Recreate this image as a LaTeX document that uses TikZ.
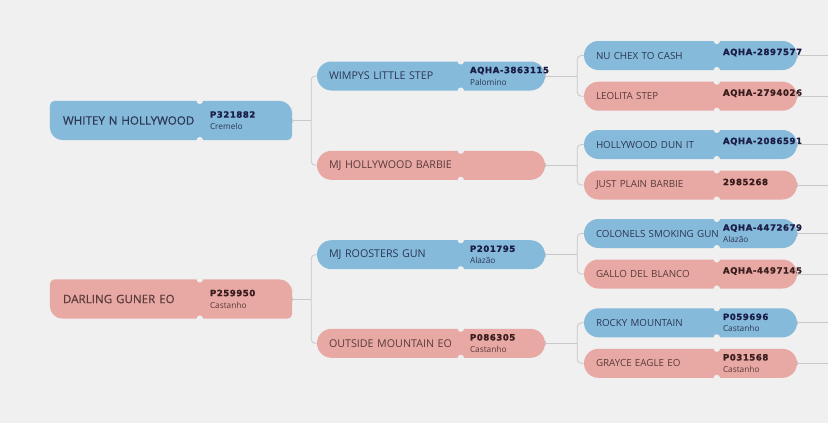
\documentclass[tikz,border=0pt]{standalone}
\usepackage{fontspec}
\setmainfont{Open Sans}
\newfontfamily\rootfont{Open Sans}[FakeBold=0.5]
\newfontfamily\regfont{DejaVu Sans}[LetterSpace=6,FakeBold=1.4]
\usetikzlibrary{positioning,arrows.meta}

\definecolor{bgcol}{HTML}{F0F0F0}
\definecolor{hblue}{HTML}{86BADB}
\definecolor{hpink}{HTML}{E8A8A4}
\definecolor{linecol}{HTML}{C8C8C8}
\definecolor{bluetext}{HTML}{2B3753}
\definecolor{pinktext}{HTML}{5A3B39}
\definecolor{blueid}{HTML}{1A1D45}
\definecolor{pinkid}{HTML}{3A1D1D}

\pgfdeclarelayer{bg}
\pgfsetlayers{bg,main}

% registration number + coat colour
\newcommand{\reg}[3]{{\regfont\bfseries\fontsize{8.6}{8.5}\selectfont\color{#1}#2}\\{\fontsize{8.3}{8.5}\selectfont #3}}
\newcommand{\regonly}[2]{{\regfont\bfseries\fontsize{8.6}{9}\selectfont\color{#1}#2}}
% root box with two sharp-ish corners
\newcommand{\rootfill}[2]{\fill[#2] (#1.west) [rounded corners=5pt] |- (#1.north) [rounded corners=13pt] -| (#1.east) [rounded corners=5pt] |- (#1.south) [rounded corners=13pt] -| (#1.west);}

\tikzset{
  sire/.style={fill=hblue,text=bluetext},
  dam/.style={fill=hpink,text=pinktext},
  rootbox/.style={rectangle,minimum width=242pt,minimum height=39pt,text width=216pt,inner xsep=13pt,inner ysep=0pt,align=left,font=\rootfont\fontsize{11.6}{13}\selectfont},
  pill/.style={rectangle,rounded corners=14.5pt,minimum height=29pt,inner ysep=0pt,align=left},
  midbox/.style={pill,minimum width=228pt,text width=204pt,inner xsep=12pt,font=\fontsize{10.7}{12}\selectfont},
  leafbox/.style={pill,minimum width=213pt,text width=189pt,inner xsep=12pt,font=\fontsize{9.8}{12}\selectfont},
  notch/.style={circle,fill=bgcol,minimum size=6.5pt,inner sep=0pt},
  regno/.style={anchor=west,inner sep=0pt,align=left},
  link/.style={draw=linecol,line width=0.8pt},
  tick/.style={link,{Bar[width=4pt]}-}
}

\begin{document}
\begin{tikzpicture}[x=1pt,y=-1pt]
    \useasboundingbox (0,0) rectangle (828,423);
    \begin{pgfonlayer}{bg}
        \fill[bgcol] (0,0) rectangle (828,423);
    \end{pgfonlayer}

    % generation 1
    \node[rootbox,text=bluetext] (whitey) at (171,120.5) {WHITEY N HOLLYWOOD};
    \node[rootbox,text=pinktext] (darling) at (171,299) {DARLING GUNER EO};
    \begin{pgfonlayer}{bg}
        \rootfill{whitey}{hblue}
        \rootfill{darling}{hpink}
    \end{pgfonlayer}

    % generation 2
    \node[midbox,sire] (wimpy) at (431,76) {WIMPYS LITTLE STEP};
    \node[midbox,dam] (mjbarbie) at (431,165.3) {MJ HOLLYWOOD BARBIE};
    \node[midbox,sire] (roosters) at (431,254.7) {MJ ROOSTERS GUN};
    \node[midbox,dam] (outside) at (431,343.3) {OUTSIDE MOUNTAIN EO};

    % generation 3
    \node[leafbox,sire] (nuchex) at (690.5,55.5) {NU CHEX TO CASH};
    \node[leafbox,dam] (leolita) at (690.5,96.2) {LEOLITA STEP};
    \node[leafbox,sire] (hwdun) at (690.5,144.5) {HOLLYWOOD DUN IT};
    \node[leafbox,dam] (plainbarbie) at (690.5,185) {JUST PLAIN BARBIE};
    \node[leafbox,sire] (colonels) at (690.5,233.5) {COLONELS SMOKING GUN};
    \node[leafbox,dam] (gallo) at (690.5,274) {GALLO DEL BLANCO};
    \node[leafbox,sire] (rocky) at (690.5,322.8) {ROCKY MOUNTAIN};
    \node[leafbox,dam] (grayce) at (690.5,363.3) {GRAYCE EAGLE EO};

    % notches
    \foreach \n/\d in {whitey/150,darling/150,wimpy/144,mjbarbie/144,roosters/144,outside/144,
        nuchex/133,leolita/133,hwdun/133,plainbarbie/133,colonels/133,gallo/133,rocky/133,grayce/133} {
        \node[notch] (\n-ntop) at ([xshift=\d pt]\n.north west) {};
        \node[notch] (\n-nbot) at ([xshift=\d pt]\n.south west) {};
    }

    % registrations
    \node[regno,text=bluetext] (whiteyreg) at ([xshift=160pt]whitey.west) {\reg{blueid}{P321882}{Cremelo}};
    \node[regno,text=pinktext] (darlingreg) at ([xshift=160pt]darling.west) {\reg{pinkid}{P259950}{Castanho}};
    \node[regno,text=bluetext] (wimpyreg) at ([xshift=153pt]wimpy.west) {\reg{blueid}{AQHA-3863115}{Palomino}};
    \node[regno,text=bluetext] (roostersreg) at ([xshift=153pt]roosters.west) {\reg{blueid}{P201795}{Alazão}};
    \node[regno,text=pinktext] (outsidereg) at ([xshift=153pt]outside.west) {\reg{pinkid}{P086305}{Castanho}};
    \node[regno] (nuchexreg) at ([xshift=139pt,yshift=3pt]nuchex.west) {\regonly{blueid}{AQHA-2897577}};
    \node[regno] (leolitareg) at ([xshift=139pt,yshift=3pt]leolita.west) {\regonly{pinkid}{AQHA-2794026}};
    \node[regno] (hwdunreg) at ([xshift=139pt,yshift=3pt]hwdun.west) {\regonly{blueid}{AQHA-2086591}};
    \node[regno] (plainbarbiereg) at ([xshift=139pt,yshift=3pt]plainbarbie.west) {\regonly{pinkid}{2985268}};
    \node[regno,text=bluetext] (colonelsreg) at ([xshift=139pt]colonels.west) {\reg{blueid}{AQHA-4472679}{Alazão}};
    \node[regno] (galloreg) at ([xshift=139pt,yshift=3pt]gallo.west) {\regonly{pinkid}{AQHA-4497145}};
    \node[regno,text=bluetext] (rockyreg) at ([xshift=139pt]rocky.west) {\reg{blueid}{P059696}{Castanho}};
    \node[regno,text=pinktext] (grayceReg) at ([xshift=139pt]grayce.west) {\reg{pinkid}{P031568}{Castanho}};

    % links
    \draw[tick] (whitey.east) -- ++(19,0) coordinate (whiteyj);
    \draw[link,rounded corners=4pt] (wimpy.west) -| (whiteyj) |- (mjbarbie.west);
    \draw[tick] (darling.east) -- ++(19,0) coordinate (darlingj);
    \draw[link,rounded corners=4pt] (roosters.west) -| (darlingj) |- (outside.west);

    \draw[tick] (wimpy.east) -- ++(32,0) coordinate (wimpyj);
    \draw[link,rounded corners=4pt] (nuchex.west) -| (wimpyj) |- (leolita.west);
    \draw[tick] (mjbarbie.east) -- ++(32,0) coordinate (mjbarbiej);
    \draw[link,rounded corners=4pt] (hwdun.west) -| (mjbarbiej) |- (plainbarbie.west);
    \draw[tick] (roosters.east) -- ++(32,0) coordinate (roostersj);
    \draw[link,rounded corners=4pt] (colonels.west) -| (roostersj) |- (gallo.west);
    \draw[tick] (outside.east) -- ++(32,0) coordinate (outsidej);
    \draw[link,rounded corners=4pt] (rocky.west) -| (outsidej) |- (grayce.west);

    \foreach \n in {nuchex,leolita,hwdun,plainbarbie,colonels,gallo,rocky,grayce}
        \draw[tick] (\n.east) -- ++(32,0);
\end{tikzpicture}
\end{document}
